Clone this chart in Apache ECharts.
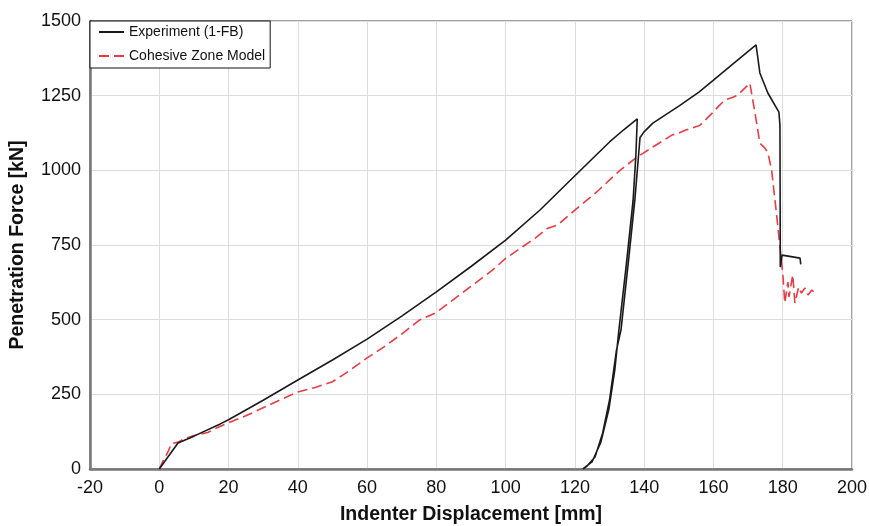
<!DOCTYPE html>
<html>
<head>
<meta charset="utf-8">
<script src="https://cdn.jsdelivr.net/npm/echarts@6/dist/echarts.min.js"></script>
<style>
html,body{margin:0;padding:0;background:#fff;}
#chart{width:869px;height:526px;}
</style>
</head>
<body>
<div id="chart"></div>
<script>
// Experiment (1-FB)
var expX = [0, 5.4, 10, 17.6, 20, 30, 40, 50, 60, 70, 80, 90, 100, 110, 120, 130, 134, 138,
  137.6, 136.8, 134.8, 132.7, 131.5, 129.8, 127.5, 125, 122.3,
  123.5, 125.8, 128, 130, 132, 133.3, 135.5, 137.3, 138.8, 139.9, 142.5, 150, 155.8, 160, 166, 172.3,
  173.4, 175.7, 178.9, 179.2, 179.3, 179.8, 182, 185, 185.2];
var expY = [0, 87, 110, 151, 165, 230, 298, 365, 435, 512, 593, 678, 766, 868, 982, 1095, 1135, 1172,
  1050, 900, 680, 465, 330, 200, 90, 25, 0,
  10, 40, 120, 231, 398, 465, 700, 900, 1110, 1128, 1158, 1215, 1262, 1302, 1360, 1420,
  1326, 1259, 1195, 1150, 676, 716, 712, 706, 685];
// Cohesive Zone Model
var czmX = [0, 1, 2.5, 3.5, 5.5, 7, 10, 14, 17, 20, 25, 30, 35, 40, 45, 50, 55, 60, 65, 70, 75, 80, 85, 90, 96, 100,
  105, 109, 112, 115, 120, 124, 127, 133, 138, 142.5, 148, 150, 152, 156, 159.5, 161.5, 163.3, 165.6, 167, 170.5,
  172, 173.4, 174.8, 175.7, 176.8, 178.3, 179.2, 180, 180.6, 181.5, 181.8, 182.9, 183.5, 184.6, 185.4, 186.4, 187.3, 188.4, 189.3];
var czmY = [0, 25, 57, 85, 90, 100, 112, 122, 140, 155, 178, 205, 232, 258, 273, 292, 330, 372, 410, 452, 498, 524, 568, 612, 664, 705,
  745, 777, 805, 817, 867, 905, 935, 1000, 1045, 1078, 1118, 1125, 1135, 1150, 1190, 1215, 1235, 1245, 1252, 1292,
  1192, 1091, 1075, 1060, 1000, 844, 743, 656, 556, 626, 576, 650, 556, 609, 589, 606, 583, 599, 589];
var xTicks = {min: -20, max: 200, step: 20};
var yTicks = {min: 0, max: 1500, step: 250};

function pairs(xs, ys) { return xs.map(function (x, i) { return [x, ys[i]]; }); }

var FONT = '"Liberation Sans", Arial, sans-serif';
var chart = echarts.init(document.getElementById('chart'), null, {renderer: 'canvas'});
chart.setOption({
  animation: false,
  backgroundColor: '#fff',
  grid: {left: 90, right: 17, top: 21, bottom: 57, show: true, borderColor: '#444', borderWidth: 1,
    containLabel: false, outerBoundsMode: 'none'},
  legend: {
    orient: 'vertical', left: 90, top: 21,
    backgroundColor: '#fff', borderColor: '#111', borderWidth: 1,
    padding: [4, 5, 5, 8], itemWidth: 25, itemHeight: 14, itemGap: 10,
    itemStyle: {opacity: 0},
    textStyle: {fontFamily: FONT, fontSize: 14, color: '#111'},
    data: ['Experiment (1-FB)', 'Cohesive Zone Model']
  },
  xAxis: {
    type: 'value', min: xTicks.min, max: xTicks.max, interval: xTicks.step,
    name: 'Indenter Displacement [mm]', nameLocation: 'middle', nameGap: 36,
    nameTextStyle: {fontFamily: FONT, fontSize: 19.5, fontWeight: 'bold', color: '#111'},
    axisLine: {show: true, onZero: false, lineStyle: {color: '#777', width: 2.5}},
    axisTick: {show: false},
    axisLabel: {fontFamily: FONT, fontSize: 18, color: '#111', margin: 10},
    splitLine: {show: true, lineStyle: {color: '#ddd', width: 1}}
  },
  yAxis: {
    type: 'value', min: yTicks.min, max: yTicks.max, interval: yTicks.step,
    name: 'Penetration Force [kN]', nameLocation: 'middle', nameGap: 62,
    nameTextStyle: {fontFamily: FONT, fontSize: 19.5, fontWeight: 'bold', color: '#111'},
    axisLine: {show: true, onZero: false, lineStyle: {color: '#777', width: 2.5}},
    axisTick: {show: false},
    axisLabel: {fontFamily: FONT, fontSize: 18, color: '#111', margin: 9,
      formatter: function (v) { return String(v); }},
    splitLine: {show: true, lineStyle: {color: '#ddd', width: 1}}
  },
  series: [
    {
      name: 'Experiment (1-FB)', type: 'line', data: pairs(expX, expY),
      symbol: 'none', smooth: false, z: 3,
      lineStyle: {color: '#1a1a1a', width: 1.6},
      itemStyle: {color: '#1a1a1a'}
    },
    {
      name: 'Cohesive Zone Model', type: 'line', data: pairs(czmX, czmY),
      symbol: 'none', smooth: false, z: 2,
      lineStyle: {color: '#e63c44', width: 1.6, type: [10, 5]},
      itemStyle: {color: '#e63c44'}
    }
  ]
});
</script>
</body>
</html>
